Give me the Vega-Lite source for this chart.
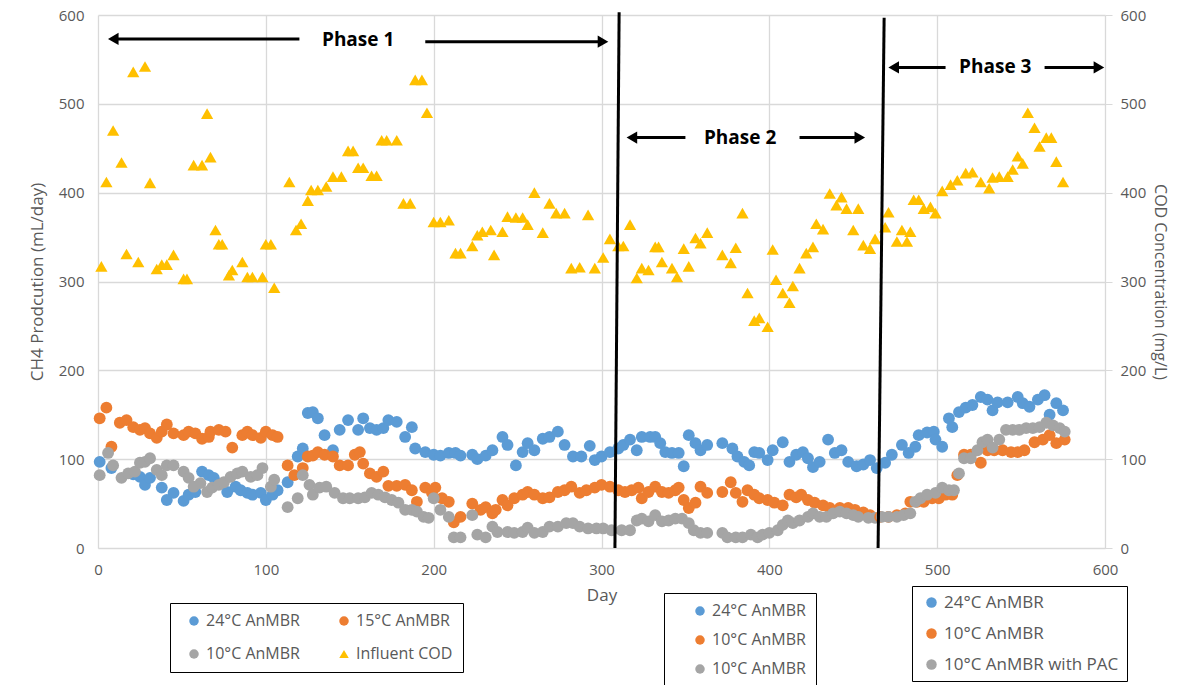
{
  "$schema": "https://vega.github.io/schema/vega-lite/v6.json",
  "width": 1007,
  "height": 533,
  "autosize": {"type": "none"},
  "padding": {"left": 98, "top": 15, "right": 72, "bottom": 137},
  "config": {
    "font": "Open Sans",
    "view": {"stroke": null},
    "axis": {
      "labelColor": "#595959", "titleColor": "#595959",
      "labelFont": "Open Sans", "titleFont": "Open Sans",
      "labelFontSize": 15, "titleFontSize": 17, "titleFontWeight": "normal",
      "gridColor": "#D9D9D9", "gridWidth": 1.3, "domainColor": "#D9D9D9", "tickColor": "#D9D9D9",
      "labelFlush": false
    },
    "legend": {
      "labelFont": "Open Sans", "labelColor": "#595959", "labelFontSize": 16, "labelLimit": 400,
      "strokeColor": "#000000", "direction": "vertical", "orient": "none"
    }
  },
  "datasets": {
    "ch4": [
      {"d":1,"v":97,"s":"24"},{"d":8,"v":90,"s":"24"},{"d":21,"v":83,"s":"24"},{"d":25,"v":80,"s":"24"},{"d":28,"v":71,"s":"24"},{"d":31,"v":79,"s":"24"},{"d":38,"v":68,"s":"24"},{"d":41,"v":54,"s":"24"},{"d":45,"v":62,"s":"24"},{"d":51,"v":53,"s":"24"},{"d":54,"v":60,"s":"24"},{"d":58,"v":63,"s":"24"},{"d":62,"v":86,"s":"24"},{"d":66,"v":82,"s":"24"},{"d":69,"v":79,"s":"24"},{"d":71,"v":73,"s":"24"},{"d":77,"v":63,"s":"24"},{"d":82,"v":69,"s":"24"},{"d":85,"v":65,"s":"24"},{"d":89,"v":62,"s":"24"},{"d":92,"v":60,"s":"24"},{"d":97,"v":62,"s":"24"},{"d":100,"v":54,"s":"24"},{"d":104,"v":60,"s":"24"},{"d":107,"v":65,"s":"24"},{"d":113,"v":74,"s":"24"},{"d":119,"v":103,"s":"24"},{"d":122,"v":112,"s":"24"},{"d":125,"v":152,"s":"24"},{"d":128,"v":153,"s":"24"},{"d":131,"v":146,"s":"24"},{"d":135,"v":127,"s":"24"},{"d":140,"v":110,"s":"24"},{"d":144,"v":133,"s":"24"},{"d":149,"v":144,"s":"24"},{"d":155,"v":133,"s":"24"},{"d":158,"v":146,"s":"24"},{"d":162,"v":135,"s":"24"},{"d":166,"v":133,"s":"24"},{"d":170,"v":135,"s":"24"},{"d":173,"v":144,"s":"24"},{"d":178,"v":142,"s":"24"},{"d":183,"v":125,"s":"24"},{"d":187,"v":136,"s":"24"},{"d":189,"v":112,"s":"24"},{"d":195,"v":108,"s":"24"},{"d":200,"v":105,"s":"24"},{"d":204,"v":104,"s":"24"},{"d":209,"v":107,"s":"24"},{"d":213,"v":107,"s":"24"},{"d":216,"v":104,"s":"24"},{"d":223,"v":105,"s":"24"},{"d":226,"v":100,"s":"24"},{"d":231,"v":104,"s":"24"},{"d":235,"v":110,"s":"24"},{"d":241,"v":125,"s":"24"},{"d":244,"v":116,"s":"24"},{"d":249,"v":93,"s":"24"},{"d":253,"v":108,"s":"24"},{"d":256,"v":118,"s":"24"},{"d":260,"v":110,"s":"24"},{"d":265,"v":123,"s":"24"},{"d":269,"v":125,"s":"24"},{"d":274,"v":131,"s":"24"},{"d":278,"v":116,"s":"24"},{"d":283,"v":103,"s":"24"},{"d":288,"v":103,"s":"24"},{"d":293,"v":115,"s":"24"},{"d":296,"v":99,"s":"24"},{"d":300,"v":103,"s":"24"},{"d":305,"v":108,"s":"24"},{"d":310,"v":112,"s":"24"},{"d":313,"v":116,"s":"24"},{"d":317,"v":122,"s":"24"},{"d":321,"v":110,"s":"24"},{"d":324,"v":125,"s":"24"},{"d":329,"v":125,"s":"24"},{"d":332,"v":125,"s":"24"},{"d":335,"v":118,"s":"24"},{"d":338,"v":108,"s":"24"},{"d":342,"v":107,"s":"24"},{"d":346,"v":107,"s":"24"},{"d":349,"v":92,"s":"24"},{"d":352,"v":127,"s":"24"},{"d":356,"v":118,"s":"24"},{"d":359,"v":110,"s":"24"},{"d":363,"v":116,"s":"24"},{"d":372,"v":118,"s":"24"},{"d":378,"v":112,"s":"24"},{"d":381,"v":103,"s":"24"},{"d":385,"v":97,"s":"24"},{"d":388,"v":93,"s":"24"},{"d":391,"v":108,"s":"24"},{"d":394,"v":107,"s":"24"},{"d":399,"v":99,"s":"24"},{"d":402,"v":110,"s":"24"},{"d":408,"v":119,"s":"24"},{"d":412,"v":97,"s":"24"},{"d":416,"v":105,"s":"24"},{"d":420,"v":108,"s":"24"},{"d":423,"v":101,"s":"24"},{"d":426,"v":91,"s":"24"},{"d":430,"v":97,"s":"24"},{"d":435,"v":122,"s":"24"},{"d":439,"v":107,"s":"24"},{"d":443,"v":110,"s":"24"},{"d":447,"v":97,"s":"24"},{"d":452,"v":92,"s":"24"},{"d":456,"v":94,"s":"24"},{"d":460,"v":99,"s":"24"},{"d":464,"v":90,"s":"24"},{"d":469,"v":96,"s":"24"},{"d":473,"v":105,"s":"24"},{"d":479,"v":116,"s":"24"},{"d":483,"v":107,"s":"24"},{"d":487,"v":114,"s":"24"},{"d":489,"v":127,"s":"24"},{"d":494,"v":130,"s":"24"},{"d":498,"v":131,"s":"24"},{"d":499,"v":122,"s":"24"},{"d":503,"v":114,"s":"24"},{"d":507,"v":146,"s":"24"},{"d":509,"v":136,"s":"24"},{"d":513,"v":153,"s":"24"},{"d":517,"v":158,"s":"24"},{"d":521,"v":161,"s":"24"},{"d":526,"v":170,"s":"24"},{"d":530,"v":167,"s":"24"},{"d":533,"v":155,"s":"24"},{"d":536,"v":164,"s":"24"},{"d":542,"v":164,"s":"24"},{"d":548,"v":170,"s":"24"},{"d":551,"v":163,"s":"24"},{"d":555,"v":159,"s":"24"},{"d":560,"v":167,"s":"24"},{"d":564,"v":172,"s":"24"},{"d":567,"v":150,"s":"24"},{"d":571,"v":163,"s":"24"},{"d":575,"v":155,"s":"24"},
      {"d":1,"v":146,"s":"low"},{"d":5,"v":158,"s":"low"},{"d":8,"v":114,"s":"low"},{"d":13,"v":141,"s":"low"},{"d":17,"v":144,"s":"low"},{"d":21,"v":136,"s":"low"},{"d":25,"v":133,"s":"low"},{"d":28,"v":135,"s":"low"},{"d":31,"v":129,"s":"low"},{"d":35,"v":124,"s":"low"},{"d":38,"v":131,"s":"low"},{"d":41,"v":139,"s":"low"},{"d":45,"v":129,"s":"low"},{"d":51,"v":127,"s":"low"},{"d":54,"v":131,"s":"low"},{"d":58,"v":129,"s":"low"},{"d":62,"v":123,"s":"low"},{"d":66,"v":125,"s":"low"},{"d":67,"v":131,"s":"low"},{"d":72,"v":133,"s":"low"},{"d":76,"v":131,"s":"low"},{"d":80,"v":113,"s":"low"},{"d":86,"v":127,"s":"low"},{"d":89,"v":131,"s":"low"},{"d":92,"v":127,"s":"low"},{"d":97,"v":124,"s":"low"},{"d":100,"v":131,"s":"low"},{"d":104,"v":127,"s":"low"},{"d":107,"v":125,"s":"low"},{"d":113,"v":93,"s":"low"},{"d":117,"v":82,"s":"low"},{"d":122,"v":90,"s":"low"},{"d":125,"v":103,"s":"low"},{"d":128,"v":104,"s":"low"},{"d":131,"v":108,"s":"low"},{"d":135,"v":105,"s":"low"},{"d":140,"v":103,"s":"low"},{"d":144,"v":93,"s":"low"},{"d":149,"v":93,"s":"low"},{"d":153,"v":105,"s":"low"},{"d":156,"v":108,"s":"low"},{"d":158,"v":95,"s":"low"},{"d":162,"v":84,"s":"low"},{"d":166,"v":80,"s":"low"},{"d":170,"v":86,"s":"low"},{"d":173,"v":70,"s":"low"},{"d":178,"v":70,"s":"low"},{"d":183,"v":71,"s":"low"},{"d":187,"v":65,"s":"low"},{"d":190,"v":52,"s":"low"},{"d":195,"v":68,"s":"low"},{"d":199,"v":62,"s":"low"},{"d":201,"v":68,"s":"low"},{"d":205,"v":56,"s":"low"},{"d":209,"v":52,"s":"low"},{"d":212,"v":29,"s":"low"},{"d":216,"v":35,"s":"low"},{"d":223,"v":50,"s":"low"},{"d":228,"v":43,"s":"low"},{"d":231,"v":46,"s":"low"},{"d":235,"v":39,"s":"low"},{"d":237,"v":43,"s":"low"},{"d":241,"v":54,"s":"low"},{"d":244,"v":48,"s":"low"},{"d":248,"v":56,"s":"low"},{"d":253,"v":60,"s":"low"},{"d":256,"v":63,"s":"low"},{"d":260,"v":60,"s":"low"},{"d":265,"v":56,"s":"low"},{"d":269,"v":57,"s":"low"},{"d":274,"v":63,"s":"low"},{"d":278,"v":65,"s":"low"},{"d":282,"v":69,"s":"low"},{"d":287,"v":62,"s":"low"},{"d":291,"v":65,"s":"low"},{"d":296,"v":68,"s":"low"},{"d":300,"v":71,"s":"low"},{"d":305,"v":69,"s":"low"},{"d":310,"v":65,"s":"low"},{"d":314,"v":63,"s":"low"},{"d":318,"v":65,"s":"low"},{"d":322,"v":68,"s":"low"},{"d":324,"v":56,"s":"low"},{"d":328,"v":63,"s":"low"},{"d":332,"v":69,"s":"low"},{"d":336,"v":63,"s":"low"},{"d":340,"v":62,"s":"low"},{"d":344,"v":65,"s":"low"},{"d":346,"v":68,"s":"low"},{"d":349,"v":54,"s":"low"},{"d":352,"v":45,"s":"low"},{"d":356,"v":51,"s":"low"},{"d":359,"v":69,"s":"low"},{"d":363,"v":62,"s":"low"},{"d":372,"v":63,"s":"low"},{"d":377,"v":74,"s":"low"},{"d":380,"v":62,"s":"low"},{"d":384,"v":52,"s":"low"},{"d":387,"v":65,"s":"low"},{"d":391,"v":60,"s":"low"},{"d":394,"v":56,"s":"low"},{"d":399,"v":54,"s":"low"},{"d":403,"v":51,"s":"low"},{"d":408,"v":48,"s":"low"},{"d":412,"v":60,"s":"low"},{"d":416,"v":57,"s":"low"},{"d":419,"v":60,"s":"low"},{"d":423,"v":54,"s":"low"},{"d":427,"v":51,"s":"low"},{"d":432,"v":48,"s":"low"},{"d":436,"v":45,"s":"low"},{"d":442,"v":45,"s":"low"},{"d":447,"v":45,"s":"low"},{"d":451,"v":43,"s":"low"},{"d":456,"v":40,"s":"low"},{"d":460,"v":37,"s":"low"},{"d":466,"v":35,"s":"low"},{"d":471,"v":35,"s":"low"},{"d":476,"v":37,"s":"low"},{"d":481,"v":39,"s":"low"},{"d":484,"v":52,"s":"low"},{"d":488,"v":52,"s":"low"},{"d":492,"v":52,"s":"low"},{"d":497,"v":56,"s":"low"},{"d":501,"v":56,"s":"low"},{"d":505,"v":60,"s":"low"},{"d":509,"v":60,"s":"low"},{"d":512,"v":82,"s":"low"},{"d":516,"v":105,"s":"low"},{"d":520,"v":105,"s":"low"},{"d":526,"v":96,"s":"low"},{"d":530,"v":110,"s":"low"},{"d":534,"v":110,"s":"low"},{"d":539,"v":110,"s":"low"},{"d":544,"v":108,"s":"low"},{"d":548,"v":108,"s":"low"},{"d":552,"v":110,"s":"low"},{"d":558,"v":119,"s":"low"},{"d":563,"v":122,"s":"low"},{"d":567,"v":127,"s":"low"},{"d":571,"v":118,"s":"low"},{"d":576,"v":122,"s":"low"},
      {"d":1,"v":82,"s":"ten"},{"d":6,"v":107,"s":"ten"},{"d":9,"v":93,"s":"ten"},{"d":14,"v":79,"s":"ten"},{"d":18,"v":84,"s":"ten"},{"d":22,"v":86,"s":"ten"},{"d":25,"v":96,"s":"ten"},{"d":28,"v":97,"s":"ten"},{"d":31,"v":101,"s":"ten"},{"d":35,"v":88,"s":"ten"},{"d":38,"v":82,"s":"ten"},{"d":41,"v":93,"s":"ten"},{"d":45,"v":93,"s":"ten"},{"d":51,"v":86,"s":"ten"},{"d":54,"v":79,"s":"ten"},{"d":57,"v":69,"s":"ten"},{"d":61,"v":73,"s":"ten"},{"d":65,"v":63,"s":"ten"},{"d":68,"v":68,"s":"ten"},{"d":72,"v":71,"s":"ten"},{"d":75,"v":74,"s":"ten"},{"d":79,"v":80,"s":"ten"},{"d":83,"v":84,"s":"ten"},{"d":86,"v":86,"s":"ten"},{"d":91,"v":80,"s":"ten"},{"d":95,"v":82,"s":"ten"},{"d":98,"v":90,"s":"ten"},{"d":103,"v":69,"s":"ten"},{"d":105,"v":77,"s":"ten"},{"d":113,"v":46,"s":"ten"},{"d":119,"v":56,"s":"ten"},{"d":122,"v":82,"s":"ten"},{"d":126,"v":71,"s":"ten"},{"d":128,"v":60,"s":"ten"},{"d":132,"v":68,"s":"ten"},{"d":136,"v":69,"s":"ten"},{"d":141,"v":62,"s":"ten"},{"d":146,"v":56,"s":"ten"},{"d":150,"v":56,"s":"ten"},{"d":155,"v":56,"s":"ten"},{"d":159,"v":57,"s":"ten"},{"d":163,"v":62,"s":"ten"},{"d":167,"v":60,"s":"ten"},{"d":171,"v":57,"s":"ten"},{"d":175,"v":54,"s":"ten"},{"d":179,"v":51,"s":"ten"},{"d":183,"v":43,"s":"ten"},{"d":187,"v":43,"s":"ten"},{"d":190,"v":41,"s":"ten"},{"d":194,"v":35,"s":"ten"},{"d":197,"v":34,"s":"ten"},{"d":200,"v":56,"s":"ten"},{"d":204,"v":43,"s":"ten"},{"d":209,"v":35,"s":"ten"},{"d":212,"v":12,"s":"ten"},{"d":216,"v":12,"s":"ten"},{"d":223,"v":37,"s":"ten"},{"d":226,"v":15,"s":"ten"},{"d":231,"v":12,"s":"ten"},{"d":235,"v":24,"s":"ten"},{"d":238,"v":18,"s":"ten"},{"d":244,"v":18,"s":"ten"},{"d":248,"v":17,"s":"ten"},{"d":253,"v":18,"s":"ten"},{"d":256,"v":23,"s":"ten"},{"d":260,"v":17,"s":"ten"},{"d":265,"v":18,"s":"ten"},{"d":269,"v":24,"s":"ten"},{"d":274,"v":24,"s":"ten"},{"d":279,"v":28,"s":"ten"},{"d":283,"v":28,"s":"ten"},{"d":287,"v":24,"s":"ten"},{"d":292,"v":22,"s":"ten"},{"d":297,"v":22,"s":"ten"},{"d":301,"v":22,"s":"ten"},{"d":306,"v":20,"s":"ten"},{"d":312,"v":20,"s":"ten"},{"d":317,"v":20,"s":"ten"},{"d":321,"v":31,"s":"ten"},{"d":324,"v":33,"s":"ten"},{"d":328,"v":30,"s":"ten"},{"d":332,"v":37,"s":"ten"},{"d":336,"v":30,"s":"ten"},{"d":340,"v":31,"s":"ten"},{"d":344,"v":33,"s":"ten"},{"d":348,"v":33,"s":"ten"},{"d":352,"v":28,"s":"ten"},{"d":355,"v":20,"s":"ten"},{"d":359,"v":17,"s":"ten"},{"d":363,"v":17,"s":"ten"},{"d":372,"v":17,"s":"ten"},{"d":375,"v":12,"s":"ten"},{"d":380,"v":12,"s":"ten"},{"d":384,"v":12,"s":"ten"},{"d":389,"v":15,"s":"ten"},{"d":393,"v":12,"s":"ten"},{"d":396,"v":15,"s":"ten"},{"d":400,"v":17,"s":"ten"},{"d":405,"v":20,"s":"ten"},{"d":408,"v":26,"s":"ten"},{"d":411,"v":31,"s":"ten"},{"d":414,"v":28,"s":"ten"},{"d":418,"v":31,"s":"ten"},{"d":423,"v":35,"s":"ten"},{"d":426,"v":39,"s":"ten"},{"d":430,"v":35,"s":"ten"},{"d":434,"v":35,"s":"ten"},{"d":438,"v":39,"s":"ten"},{"d":442,"v":41,"s":"ten"},{"d":446,"v":39,"s":"ten"},{"d":450,"v":37,"s":"ten"},{"d":453,"v":35,"s":"ten"},{"d":459,"v":34,"s":"ten"},{"d":463,"v":34,"s":"ten"},{"d":467,"v":35,"s":"ten"},{"d":471,"v":35,"s":"ten"},{"d":476,"v":35,"s":"ten"},{"d":480,"v":37,"s":"ten"},{"d":484,"v":39,"s":"ten"},{"d":487,"v":52,"s":"ten"},{"d":490,"v":56,"s":"ten"},{"d":494,"v":60,"s":"ten"},{"d":499,"v":62,"s":"ten"},{"d":503,"v":68,"s":"ten"},{"d":507,"v":65,"s":"ten"},{"d":510,"v":65,"s":"ten"},{"d":513,"v":84,"s":"ten"},{"d":516,"v":101,"s":"ten"},{"d":520,"v":101,"s":"ten"},{"d":524,"v":110,"s":"ten"},{"d":527,"v":119,"s":"ten"},{"d":530,"v":122,"s":"ten"},{"d":533,"v":113,"s":"ten"},{"d":537,"v":122,"s":"ten"},{"d":541,"v":133,"s":"ten"},{"d":545,"v":133,"s":"ten"},{"d":549,"v":133,"s":"ten"},{"d":553,"v":135,"s":"ten"},{"d":557,"v":135,"s":"ten"},{"d":561,"v":136,"s":"ten"},{"d":565,"v":141,"s":"ten"},{"d":569,"v":138,"s":"ten"},{"d":573,"v":135,"s":"ten"},{"d":576,"v":131,"s":"ten"}
    ],
    "cod": [
      {"d":2,"v":317},{"d":5,"v":412},{"d":9,"v":470},{"d":14,"v":434},{"d":17,"v":331},{"d":21,"v":536},{"d":24,"v":322},{"d":28,"v":542},{"d":31,"v":411},{"d":35,"v":314},{"d":38,"v":319},{"d":41,"v":319},{"d":45,"v":330},{"d":51,"v":303},{"d":53,"v":303},{"d":57,"v":431},{"d":62,"v":431},{"d":65,"v":489},{"d":67,"v":440},{"d":70,"v":358},{"d":72,"v":342},{"d":74,"v":342},{"d":78,"v":307},{"d":80,"v":313},{"d":86,"v":322},{"d":89,"v":305},{"d":92,"v":305},{"d":98,"v":305},{"d":100,"v":342},{"d":103,"v":342},{"d":105,"v":293},{"d":114,"v":412},{"d":118,"v":358},{"d":121,"v":365},{"d":125,"v":391},{"d":127,"v":403},{"d":131,"v":403},{"d":136,"v":407},{"d":140,"v":418},{"d":145,"v":418},{"d":149,"v":447},{"d":152,"v":447},{"d":155,"v":428},{"d":158,"v":428},{"d":163,"v":419},{"d":166,"v":419},{"d":169,"v":459},{"d":172,"v":459},{"d":178,"v":459},{"d":182,"v":388},{"d":186,"v":388},{"d":189,"v":527},{"d":193,"v":527},{"d":196,"v":490},{"d":200,"v":367},{"d":204,"v":367},{"d":209,"v":369},{"d":213,"v":332},{"d":216,"v":332},{"d":223,"v":340},{"d":226,"v":352},{"d":229,"v":356},{"d":234,"v":358},{"d":236,"v":330},{"d":241,"v":356},{"d":244,"v":373},{"d":249,"v":372},{"d":253,"v":372},{"d":256,"v":364},{"d":260,"v":400},{"d":265,"v":355},{"d":269,"v":388},{"d":273,"v":377},{"d":278,"v":377},{"d":282,"v":315},{"d":287,"v":316},{"d":292,"v":375},{"d":296,"v":315},{"d":301,"v":327},{"d":305,"v":348},{"d":310,"v":340},{"d":313,"v":340},{"d":317,"v":364},{"d":321,"v":304},{"d":324,"v":315},{"d":328,"v":313},{"d":332,"v":339},{"d":334,"v":339},{"d":336,"v":322},{"d":342,"v":315},{"d":345,"v":305},{"d":349,"v":337},{"d":352,"v":317},{"d":356,"v":349},{"d":359,"v":343},{"d":363,"v":355},{"d":372,"v":330},{"d":377,"v":321},{"d":380,"v":338},{"d":384,"v":377},{"d":387,"v":287},{"d":391,"v":256},{"d":394,"v":259},{"d":399,"v":249},{"d":402,"v":336},{"d":404,"v":302},{"d":408,"v":287},{"d":412,"v":276},{"d":414,"v":295},{"d":418,"v":315},{"d":422,"v":332},{"d":426,"v":339},{"d":428,"v":365},{"d":432,"v":359},{"d":436,"v":399},{"d":440,"v":386},{"d":443,"v":395},{"d":446,"v":382},{"d":450,"v":358},{"d":453,"v":382},{"d":456,"v":341},{"d":460,"v":337},{"d":463,"v":348},{"d":469,"v":361},{"d":471,"v":378},{"d":476,"v":345},{"d":479,"v":358},{"d":482,"v":345},{"d":484,"v":356},{"d":486,"v":392},{"d":489,"v":392},{"d":492,"v":382},{"d":496,"v":384},{"d":499,"v":377},{"d":503,"v":402},{"d":508,"v":409},{"d":512,"v":414},{"d":517,"v":422},{"d":521,"v":423},{"d":526,"v":412},{"d":531,"v":405},{"d":533,"v":417},{"d":537,"v":418},{"d":542,"v":418},{"d":545,"v":426},{"d":548,"v":441},{"d":551,"v":433},{"d":554,"v":490},{"d":558,"v":473},{"d":561,"v":452},{"d":565,"v":462},{"d":568,"v":462},{"d":571,"v":435},{"d":575,"v":412}
    ],
    "bounds": [
      {"d":310.5,"v":603,"d2":308,"v2":0},
      {"d":468.4,"v":597,"d2":464.8,"v2":0}
    ],
    "shafts": [
      {"d":9,"d2":120,"v":573},
      {"d":195,"d2":301,"v":570},
      {"d":318,"d2":350,"v":462},
      {"d":418,"d2":454,"v":462},
      {"d":474,"d2":505,"v":541},
      {"d":564,"d2":596,"v":541}
    ],
    "heads": [
      {"d":9.1,"v":573,"dir":"left"},
      {"d":300.9,"v":570,"dir":"right"},
      {"d":318.1,"v":462,"dir":"left"},
      {"d":453.9,"v":462,"dir":"right"},
      {"d":474.1,"v":541,"dir":"left"},
      {"d":596.4,"v":541,"dir":"right"}
    ],
    "phases": [
      {"d":155,"v":572,"label":"Phase 1"},
      {"d":382.6,"v":462,"label":"Phase 2"},
      {"d":534.6,"v":542,"label":"Phase 3"}
    ]
  },
  "resolve": {
    "scale": {"y": "independent", "color": "independent", "shape": "independent"},
    "legend": {"color": "independent", "shape": "independent"}
  },
  "layer": [
    {
      "data": {"name": "ch4"},
      "transform": [{"filter": "datum.d < 309"}],
      "mark": {"type": "point", "filled": true, "opacity": 1, "size": 140},
      "encoding": {
        "x": {"field": "d", "type": "quantitative", "scale": {"domain": [0, 600]},
              "axis": {"title": "Day", "values": [0, 100, 200, 300, 400, 500, 600], "grid": true, "ticks": false, "domain": true, "labelPadding": 14, "titlePadding": 10}},
        "y": {"field": "v", "type": "quantitative", "scale": {"domain": [0, 600]},
              "axis": {"orient": "left", "title": "CH4 Prodcution (mL/day)", "values": [0, 100, 200, 300, 400, 500, 600], "grid": true, "ticks": false, "domain": false, "labelPadding": 14, "titlePadding": 12}},
        "color": {"field": "s", "type": "nominal",
                  "scale": {"domain": ["24", "ten", "low", "cod"], "range": ["#5B9BD5", "#A5A5A5", "#ED7D31", "#FFC000"]},
                  "legend": {"title": null, "legendX": 72, "legendY": 588, "columns": 2, "columnPadding": 30, "rowPadding": 17, "padding": 10, "symbolOffset": 6, "symbolSize": 90,
                             "labelExpr": "datum.value == '24' ? '24°C AnMBR' : datum.value == 'low' ? '15°C AnMBR' : datum.value == 'ten' ? '10°C AnMBR' : 'Influent COD'",
                             "encode": {"legend": {"update": {"strokeWidth": {"value": 2}}}}}},
        "shape": {"field": "s", "type": "nominal",
                  "scale": {"domain": ["24", "ten", "low", "cod"], "range": ["circle", "circle", "circle", "triangle-up"]},
                  "legend": {"title": null, "legendX": 72, "legendY": 588, "columns": 2, "columnPadding": 30, "rowPadding": 17, "padding": 10, "symbolOffset": 6, "symbolSize": 90,
                             "labelExpr": "datum.value == '24' ? '24°C AnMBR' : datum.value == 'low' ? '15°C AnMBR' : datum.value == 'ten' ? '10°C AnMBR' : 'Influent COD'",
                             "encode": {"legend": {"update": {"strokeWidth": {"value": 2}}}}}}
      }
    },
    {
      "data": {"name": "ch4"},
      "transform": [{"filter": "datum.d >= 309 && datum.d < 466"}],
      "mark": {"type": "point", "filled": true, "opacity": 1, "size": 140, "shape": "circle"},
      "encoding": {
        "x": {"field": "d", "type": "quantitative", "title": "Day"},
        "y": {"field": "v", "type": "quantitative", "scale": {"domain": [0, 600]}, "axis": null},
        "color": {"field": "s", "type": "nominal",
                  "scale": {"domain": ["24", "low", "ten"], "range": ["#5B9BD5", "#ED7D31", "#A5A5A5"]},
                  "legend": {"title": null, "legendX": 566, "legendY": 578, "rowPadding": 13, "padding": 10, "symbolOffset": 18, "symbolSize": 90,
                             "labelExpr": "datum.value == '24' ? '24°C AnMBR' : '10°C AnMBR'",
                             "encode": {"legend": {"update": {"strokeWidth": {"value": 2}}}}}}
      }
    },
    {
      "data": {"name": "ch4"},
      "transform": [{"filter": "datum.d >= 466"}],
      "mark": {"type": "point", "filled": true, "opacity": 1, "size": 140, "shape": "circle"},
      "encoding": {
        "x": {"field": "d", "type": "quantitative", "title": "Day"},
        "y": {"field": "v", "type": "quantitative", "scale": {"domain": [0, 600]}, "axis": null},
        "color": {"field": "s", "type": "nominal",
                  "scale": {"domain": ["24", "low", "ten"], "range": ["#5B9BD5", "#ED7D31", "#A5A5A5"]},
                  "legend": {"title": null, "legendX": 814, "legendY": 571, "rowPadding": 13, "padding": 8, "symbolOffset": 3, "symbolSize": 110, "labelFontSize": 17,
                             "labelExpr": "datum.value == '24' ? '24°C AnMBR' : datum.value == 'low' ? '10°C AnMBR' : '10°C AnMBR with PAC'",
                             "encode": {"legend": {"update": {"strokeWidth": {"value": 2}}}}}}
      }
    },
    {
      "data": {"name": "cod"},
      "mark": {"type": "point", "filled": true, "opacity": 1, "size": 150, "shape": "triangle-up", "color": "#FFC000"},
      "encoding": {
        "x": {"field": "d", "type": "quantitative", "title": "Day"},
        "y": {"field": "v", "type": "quantitative", "scale": {"domain": [0, 600]},
              "axis": {"orient": "right", "title": "COD Concentration (mg/L)", "titleFontSize": 16, "values": [0, 100, 200, 300, 400, 500, 600], "grid": false, "domain": false, "ticks": true, "tickSize": 7, "labelPadding": 8, "titlePadding": 6}}
      }
    },
    {
      "data": {"name": "bounds"},
      "mark": {"type": "rule", "color": "#000000", "strokeWidth": 3},
      "encoding": {
        "x": {"field": "d", "type": "quantitative", "title": "Day"},
        "x2": {"field": "d2"},
        "y": {"field": "v", "type": "quantitative", "scale": {"domain": [0, 600]}, "axis": null},
        "y2": {"field": "v2"}
      }
    },
    {
      "data": {"name": "shafts"},
      "mark": {"type": "rule", "color": "#000000", "strokeWidth": 3},
      "encoding": {
        "x": {"field": "d", "type": "quantitative", "title": "Day"},
        "x2": {"field": "d2"},
        "y": {"field": "v", "type": "quantitative", "scale": {"domain": [0, 600]}, "axis": null}
      }
    },
    {
      "data": {"name": "heads"},
      "mark": {"type": "point", "filled": true, "opacity": 1, "size": 150, "color": "#000000"},
      "encoding": {
        "x": {"field": "d", "type": "quantitative", "title": "Day"},
        "y": {"field": "v", "type": "quantitative", "scale": {"domain": [0, 600]}, "axis": null},
        "shape": {"field": "dir", "type": "nominal", "scale": {"domain": ["left", "right"], "range": ["triangle-left", "triangle-right"]}, "legend": null}
      }
    },
    {
      "data": {"name": "phases"},
      "mark": {"type": "text", "font": "Open Sans", "fontWeight": "bold", "fontSize": 19, "color": "#000000", "baseline": "middle", "align": "center"},
      "encoding": {
        "x": {"field": "d", "type": "quantitative", "title": "Day"},
        "y": {"field": "v", "type": "quantitative", "scale": {"domain": [0, 600]}, "axis": null},
        "text": {"field": "label"}
      }
    }
  ]
}
